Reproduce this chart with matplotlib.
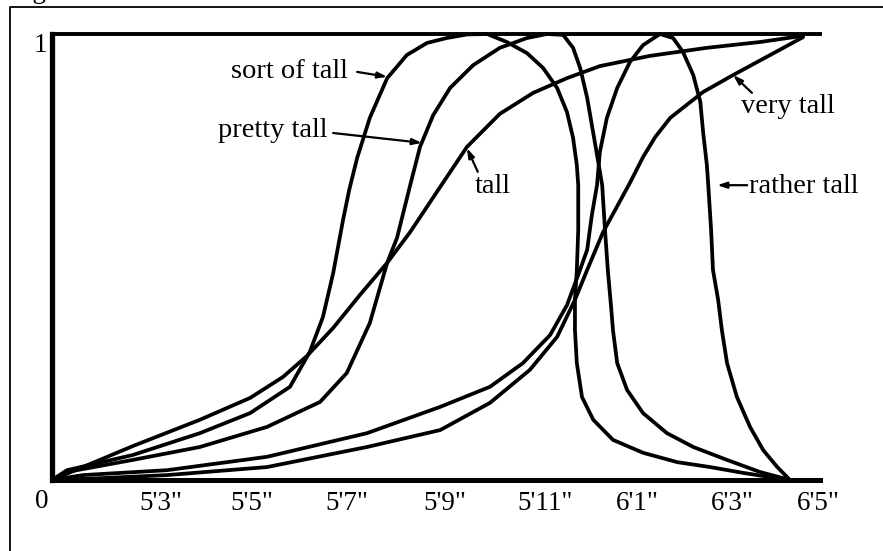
import matplotlib
matplotlib.use("Agg")
import matplotlib.pyplot as plt
from matplotlib.lines import Line2D

# ---------------- data (height in inches, degree of membership 0..1) ----------------
sort_of_tall_x = [60.68, 61.00, 62.40, 63.83, 64.90, 65.75, 66.17, 66.45, 66.67, 66.88, 67.01, 67.18,
                  67.45, 67.82, 68.24, 68.67, 69.09, 69.52, 69.95, 70.37, 70.80, 71.14, 71.44, 71.65,
                  71.78, 71.86, 71.89, 71.89, 71.86, 71.82, 71.82, 71.86, 71.97, 72.21, 72.63, 73.27,
                  74.00, 74.70, 75.40, 76.13, 76.40]
sort_of_tall_y = [0.0, 0.022, 0.056, 0.105, 0.150, 0.209, 0.287, 0.365, 0.464, 0.583, 0.650, 0.722,
                  0.812, 0.901, 0.953, 0.980, 0.991, 0.999, 1.0, 0.982, 0.957, 0.924, 0.879, 0.825,
                  0.767, 0.706, 0.661, 0.561, 0.471, 0.404, 0.336, 0.262, 0.186, 0.135, 0.090, 0.061,
                  0.040, 0.029, 0.016, 0.004, 0.0]

pretty_tall_x = [60.68, 61.00, 62.40, 63.83, 65.26, 66.39, 66.96, 67.45, 67.82, 68.03, 68.31, 68.52,
                 68.80, 69.16, 69.65, 70.22, 70.80, 71.22, 71.57, 71.78, 71.93, 72.08, 72.18, 72.29,
                 72.40, 72.46, 72.52, 72.59, 72.63, 72.72, 72.93, 73.27, 73.78, 74.34, 75.06, 75.76,
                 76.40]
pretty_tall_y = [0.0, 0.018, 0.045, 0.074, 0.119, 0.175, 0.240, 0.352, 0.487, 0.543, 0.661, 0.747,
                 0.818, 0.879, 0.930, 0.969, 0.991, 1.0, 0.998, 0.969, 0.924, 0.857, 0.796, 0.729,
                 0.661, 0.561, 0.471, 0.388, 0.336, 0.262, 0.202, 0.150, 0.105, 0.074, 0.045, 0.018,
                 0.0]

tall_x = [60.68, 62.40, 63.83, 64.90, 65.60, 66.11, 66.67, 67.24, 67.82, 68.31, 68.86, 69.52,
          70.22, 70.93, 71.65, 72.35, 73.42, 74.63, 75.76, 76.68]
tall_y = [0.0, 0.076, 0.135, 0.184, 0.231, 0.278, 0.341, 0.415, 0.487, 0.556, 0.643, 0.747,
          0.821, 0.868, 0.901, 0.928, 0.951, 0.969, 0.982, 0.996]

very_tall_x = [60.68, 61.70, 63.13, 65.26, 67.39, 68.95, 70.01, 70.86, 71.44, 71.82, 72.08, 72.42,
               72.70, 72.99, 73.27, 73.53, 73.85, 74.55, 75.19, 75.98, 76.68]
very_tall_y = [0.0, 0.004, 0.011, 0.029, 0.074, 0.112, 0.173, 0.247, 0.321, 0.404, 0.471, 0.556,
               0.610, 0.666, 0.724, 0.769, 0.812, 0.870, 0.908, 0.953, 0.993]

rather_tall_x = [60.68, 61.34, 63.13, 65.26, 67.39, 68.95, 70.01, 70.71, 71.29, 71.65, 71.89, 72.08,
                 72.18, 72.29, 72.35, 72.50, 72.72, 72.99, 73.27, 73.63, 73.91, 74.12, 74.34, 74.49,
                 74.55, 74.63, 74.66, 74.72, 74.76, 74.87, 74.95, 75.06, 75.27, 75.55, 75.83, 76.13,
                 76.40]
rather_tall_y = [0.0, 0.011, 0.022, 0.052, 0.105, 0.164, 0.209, 0.262, 0.325, 0.392, 0.460, 0.516,
                 0.594, 0.661, 0.735, 0.812, 0.879, 0.937, 0.975, 1.0, 0.991, 0.960, 0.908, 0.848,
                 0.780, 0.706, 0.661, 0.561, 0.471, 0.404, 0.336, 0.262, 0.186, 0.119, 0.067, 0.029,
                 0.0]

tick_pos = [63.0, 64.94, 66.96, 69.05, 71.18, 73.16, 75.17, 77.0]
tick_labels = ["5'3\"", "5'5\"", "5'7\"", "5'9\"", "5'11\"", "6'1\"", "6'3\"", "6'5\""]

# label text, text anchor (left, baseline), arrow tail, arrow head
labels = ["sort of tall", "pretty tall", "tall", "very tall", "rather tall"]
label_pos = [(64.50, 0.901), (64.22, 0.769), (69.69, 0.643), (75.36, 0.823), (75.52, 0.643)]
arrow_tail = [(67.18, 0.915), (66.67, 0.778), (69.75, 0.691), (75.59, 0.868), (75.49, 0.661)]
arrow_head = [(67.82, 0.904), (68.56, 0.756), (69.52, 0.744), (75.19, 0.908), (74.85, 0.661)]

# ---------------- figure ----------------
W, H = 883, 551
fig = plt.figure(figsize=(W / 100, H / 100), dpi=100)
fig.patch.set_facecolor("white")
FONT = "Liberation Serif"
FS_TICK = 19.5
FS_LAB = 20.5

# outer frame (extends beyond right/bottom edge)
fx = 9.5 / W
fy = 1 - 6.5 / H
fig.add_artist(Line2D([fx, fx, 1.0], [0.0, fy, fy], transform=fig.transFigure,
                      color="black", lw=1.3))
# caption at the very top, cut off by the picture edge as in the source
fig.text(10 / W, 1 + 2.0 / H, "Figure", fontsize=FS_TICK, family=FONT, ha="left", va="baseline")

ax = fig.add_axes([52 / W, (H - 480) / H, (820 - 52) / W, (480 - 34) / H])
ax.set_xlim(60.68, 77.04)
ax.set_ylim(0, 1)
ax.set_xticks([])
ax.set_yticks([])
ax.spines["right"].set_visible(False)
ax.spines["left"].set_linewidth(3.8)
ax.spines["bottom"].set_linewidth(3.6)
ax.spines["top"].set_linewidth(2.8)
for s in ("left", "bottom", "top"):
    ax.spines[s].set_capstyle("projecting")
    ax.spines[s].set_zorder(5)

curve_kw = dict(color="black", lw=2.7, solid_joinstyle="round", solid_capstyle="round", clip_on=False)
for xs, ys in [(sort_of_tall_x, sort_of_tall_y), (pretty_tall_x, pretty_tall_y), (tall_x, tall_y),
               (very_tall_x, very_tall_y), (rather_tall_x, rather_tall_y)]:
    ax.plot(xs, ys, **curve_kw)

for lab, (tx, ty), tail, head in zip(labels, label_pos, arrow_tail, arrow_head):
    ax.text(tx, ty, lab, fontsize=FS_LAB, family=FONT, ha="left", va="baseline")
    ax.annotate("", xy=head, xytext=tail,
                arrowprops=dict(arrowstyle="-|>,head_length=0.55,head_width=0.18",
                                color="black", lw=1.6, shrinkA=0, shrinkB=0))

for p, t in zip(tick_pos, tick_labels):
    ax.text(p, -0.067, t, fontsize=FS_TICK, family=FONT, ha="center", va="baseline", clip_on=False)
ax.text(60.46, -0.063, "0", fontsize=FS_TICK, family=FONT, ha="center", va="baseline", clip_on=False)
ax.text(60.44, 0.960, "1", fontsize=FS_TICK, family=FONT, ha="center", va="baseline", clip_on=False)

fig.savefig("out.png", dpi=100, facecolor="white")
